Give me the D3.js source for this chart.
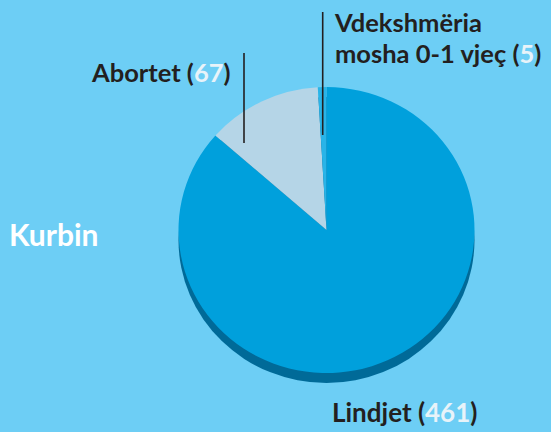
<!DOCTYPE html>
<html><head><meta charset="utf-8">
<script src="https://cdn.jsdelivr.net/npm/d3@7"></script>
<style>html,body{margin:0;padding:0;background:#6dcef5;}svg{display:block;}</style>
</head><body>
<script>
const categories = ["Lindjet", "Abortet", "Vdekshmëria mosha 0-1 vjeç"];
const values = [461, 67, 5];
const regionLabel = ["Kurbin"];

const W = 551, H = 432;
const cx = 326.5, cy = 230, rx = 148, ry = 143, depth = 10;
const colors = ["#00a0dc", "#b5d5e7", "#29b4e8"];
const sideColor = "#006a98";

const svg = d3.select("body").append("svg").attr("width", W).attr("height", H);
svg.append("rect").attr("width", W).attr("height", H).attr("fill", "#6dcef5");

const pieData = d3.pie().sort(null).value(d => d)(values);
const arcGen = d3.arc().innerRadius(0).outerRadius(rx);

// side (extrusion)
const sideG = svg.append("g").attr("transform", `translate(${cx},${cy + depth}) scale(1,${ry / rx})`);
sideG.append("path").attr("d", arcGen({startAngle: 0, endAngle: 2 * Math.PI})).attr("fill", sideColor);

const faceG = svg.append("g").attr("transform", `translate(${cx},${cy}) scale(1,${ry / rx})`);
faceG.selectAll("path").data(pieData).join("path")
  .attr("d", arcGen).attr("fill", (d, i) => colors[i]);

const font = "Lato, 'DejaVu Sans', sans-serif";
function label(x, y, txt, num, size) {
  const t = svg.append("text").attr("x", x).attr("y", y)
    .attr("font-family", font).attr("font-weight", 700).attr("font-size", size).attr("fill", "#231f20");
  t.append("tspan").text(txt + " (");
  t.append("tspan").attr("fill", "#e8f3f9").text(num);
  t.append("tspan").text(")");
  return t;
}

// leader lines
svg.append("line").attr("x1", 244).attr("x2", 244).attr("y1", 53).attr("y2", 143).attr("stroke", "#231f20").attr("stroke-width", 1.6);
svg.append("line").attr("x1", 322.7).attr("x2", 322.7).attr("y1", 12).attr("y2", 135).attr("stroke", "#231f20").attr("stroke-width", 1.6);

label(92, 82, "Abortet", values[1], 25.5);
svg.append("text").attr("x", 335).attr("y", 31.5).attr("font-family", font).attr("font-weight", 700)
  .attr("font-size", 25.5).attr("fill", "#231f20").text("Vdekshmëria");
label(335, 63, "mosha 0-1 vjeç", values[2], 25.5);
label(332, 421.5, categories[0], values[0], 26);

svg.append("text").attr("x", 9).attr("y", 246).attr("font-family", font).attr("font-weight", 700)
  .attr("font-size", 30).attr("fill", "#ffffff").text(regionLabel[0]);
</script>
</body></html>
